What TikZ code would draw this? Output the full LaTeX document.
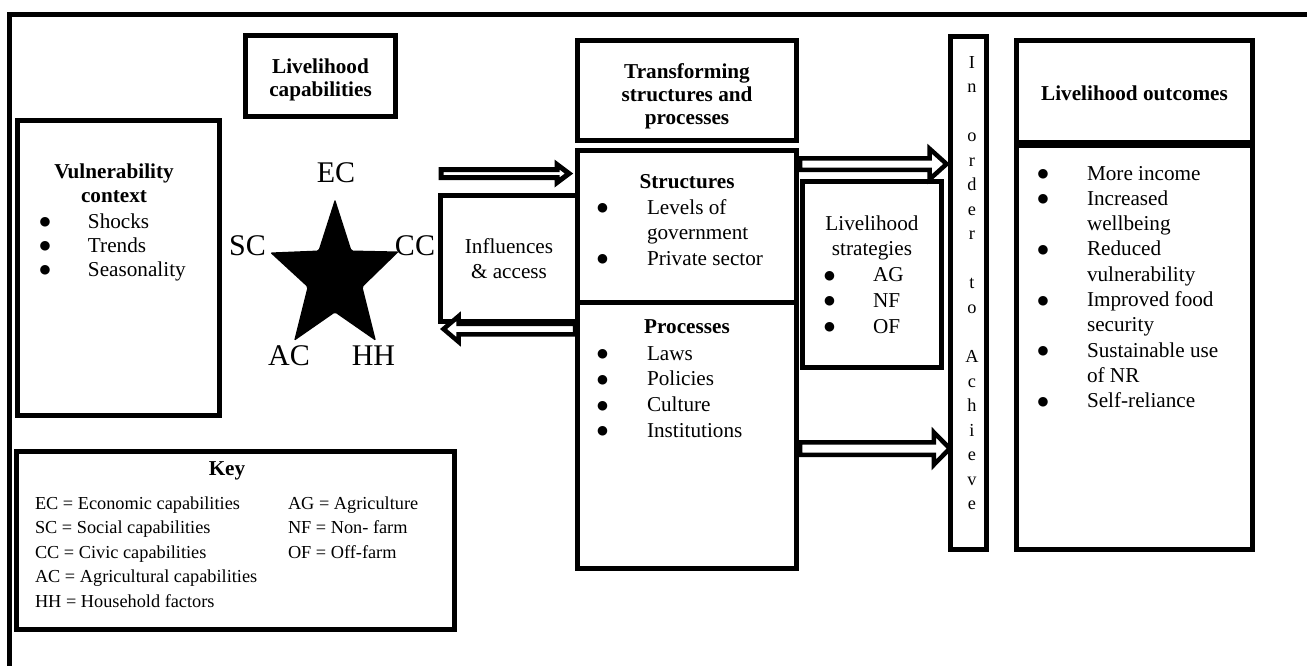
\documentclass[tikz,border=0pt]{standalone}
\usepackage{fontspec}
\setmainfont{Liberation Serif}
\newfontfamily\symfont{DejaVu Sans}
\usetikzlibrary{fit,calc}

% font sizes used in the framework
\newcommand\fmain[1]{\fontsize{21.2}{#1}\selectfont}
\newcommand\fbold[1]{\fontsize{21.2}{#1}\selectfont\bfseries}
\newcommand\fkey{\fontsize{18.3}{24.4}\selectfont}
\newcommand\fcol{\fontsize{18.3}{24.55}\selectfont}
\newcommand\fbig{\fontsize{30}{36}\selectfont}
% list bullet, centred on the start of its cell
\newcommand\bul{\makebox[0pt]{\raisebox{2.4pt}{\fontsize{12.5}{12.5}\symfont ●}}}

% outlined block arrow between two points (horizontal):
% #2 from, #3 to, #4 shaft half width, #5 head half width, #6 head length
\newcommand\blockarrow[6][]{%
  \draw[barrow,#1] let \p1=(#2), \p2=(#3), \n1={(\x2>\x1)?1:-1} in
    (\x1,{\y1+#4}) -- ({\x2-(\n1)*#6},{\y1+#4}) -- ({\x2-(\n1)*#6},{\y1+#5})
    -- (\x2,\y1)
    -- ({\x2-(\n1)*#6},{\y1-#5}) -- ({\x2-(\n1)*#6},{\y1-#4}) -- (\x1,{\y1-#4}) -- cycle;}

\begin{document}
\begin{tikzpicture}[x=1pt,y=-1pt,
  box/.style={draw, line width=5pt, inner sep=0pt, outer sep=0pt, rectangle},
  barrow/.style={draw, fill=white, line width=4.5pt, line join=miter},
  lbl/.style={inner sep=0pt, outer sep=0pt, anchor=base},
  lblw/.style={inner sep=0pt, outer sep=0pt, anchor=base west}]
\useasboundingbox (0,0) rectangle (1307,665);

% outer frame (top and left sides)
\draw[line width=5.5pt] (9.5,700) -- (9.5,14.5) -- (1330,14.5);

% boxes
\node[box, fit={(245.5,35.5) (395.5,116.5)}] (caps) {};
\node[box, fit={(17.5,120.5) (219.5,415.5)}] (vuln) {};
\node[box, fit={(440.5,195.5) (577.5,321)}] (infl) {};
\node[box, fit={(577.5,40.5) (796.5,140.5)}] (tshead) {};
\node[box, fit={(577.5,150.5) (796.5,302.5)}] (struct) {};
\node[box, fit={(577.5,302.5) (796.5,568)}] (proc) {};
\node[box, fit={(802.5,181.5) (941.5,367.5)}] (strat) {};
\node[box, fit={(950.5,36.5) (986.5,549.5)}] (achieve) {};
\node[box, fit={(1016.5,40.5) (1252.5,142.5)}] (outhead) {};
\node[box, fit={(1016.5,145) (1252.5,549.5)}] (outlist) {};
\node[box, fit={(16.5,451.5) (454,629.5)}] (key) {};

% livelihood capabilities
\node[lbl] (capsT) at (320.5,73) {\fbold{23}\begin{tabular}[t]{@{}c@{}}Livelihood\\capabilities\end{tabular}};

% vulnerability context
\node[lbl] (vulnT) at (114,178) {\fbold{24}\begin{tabular}[t]{@{}c@{}}Vulnerability\\context\end{tabular}};
\node[lblw] (vulnL) at (45,228) {\fmain{24}\begin{tabular}[t]{@{}p{43pt}@{}l@{}}\bul&Shocks\\\bul&Trends\\\bul&Seasonality\end{tabular}};

% star of capabilities
\fill[rounded corners=1.5pt] (335,199) -- (351.5,250.5) -- (399,251.5) -- (362.5,287) -- (376,341)
  -- (335,312.5) -- (294,341) -- (307.5,287) -- (270,252.5) -- (318.5,250.5) -- cycle;
\node[lbl] (ec) at (336,182) {\fbig EC};
\node[lbl] (sc) at (247.5,255) {\fbig SC};
\node[lbl] (cc) at (415,255) {\fbig CC};
\node[lbl] (ac) at (289,365) {\fbig AC};
\node[lbl] (hh) at (373.5,365) {\fbig HH};

% influences and access
\node[lbl] (inflT) at (509,253) {\fmain{25}\begin{tabular}[t]{@{}c@{}}Influences\\\& access\end{tabular}};

% transforming structures and processes
\node[lbl] (tsT) at (687,78) {\fbold{23}\begin{tabular}[t]{@{}c@{}}Transforming\\structures and\\processes\end{tabular}};
\node[lbl] (structT) at (687,188) {\fbold{25}Structures};
\node[lblw] (structL) at (602.5,214) {\fmain{25.5}\begin{tabular}[t]{@{}p{44.5pt}@{}l@{}}\bul&Levels of\\&government\\\bul&Private sector\end{tabular}};
\node[lbl] (procT) at (687,333) {\fbold{25}Processes};
\node[lblw] (procL) at (602.5,360) {\fmain{25.7}\begin{tabular}[t]{@{}p{44.5pt}@{}l@{}}\bul&Laws\\\bul&Policies\\\bul&Culture\\\bul&Institutions\end{tabular}};

% livelihood strategies
\node[lbl] (stratT) at (872,230) {\fmain{25.7}\begin{tabular}[t]{@{}c@{}}Livelihood\\strategies\end{tabular}};
\node[lblw] (stratL) at (829.5,281.4) {\fmain{25.8}\begin{tabular}[t]{@{}p{43.5pt}@{}l@{}}\bul&AG\\\bul&NF\\\bul&OF\end{tabular}};

% in order to achieve
\node[lbl] (achT) at (972,68) {\fcol\begin{tabular}[t]{@{}c@{}}I\\n\\~\\o\\r\\d\\e\\r\\~\\t\\o\\~\\A\\c\\h\\i\\e\\v\\e\end{tabular}};

% livelihood outcomes
\node[lbl] (outT) at (1134.5,100) {\fbold{25}Livelihood outcomes};
\node[lblw] (outL) at (1043,180) {\fmain{25.3}\begin{tabular}[t]{@{}p{44pt}@{}l@{}}\bul&More income\\\bul&Increased\\&wellbeing\\\bul&Reduced\\&vulnerability\\\bul&Improved food\\&security\\\bul&Sustainable use\\&of NR\\\bul&Self-reliance\end{tabular}};

% key
\node[lbl] (keyT) at (227,475) {\fbold{24}Key};
\node[lblw] (keyL) at (35,509.5) {\fkey\begin{tabular}[t]{@{}p{253pt}@{}l@{}}EC = Economic capabilities & AG = Agriculture\\SC = Social capabilities & NF = Non- farm\\CC = Civic capabilities & OF = Off-farm\\AC = Agricultural capabilities & \\HH = Household factors & \end{tabular}};

% block arrows
\coordinate (a1s) at (441,173.5);
\coordinate (a1e) at (569,173.5);
\coordinate (a2s) at (575,329);
\coordinate (a2e) at (443.5,329);
\coordinate (a3s) at (800,164);
\coordinate (a3e) at (946.6,164);
\coordinate (a4s) at (800,448.5);
\coordinate (a4e) at (949.8,448.5);
\blockarrow[line width=5pt]{a1s}{a1e}{4}{9}{12}
\blockarrow{a2s}{a2e}{5.25}{12.75}{15}
\blockarrow{a3s}{a3e}{5.75}{15.25}{17}
\blockarrow{a4s}{a4e}{6.25}{16.25}{16}
\end{tikzpicture}
\end{document}
